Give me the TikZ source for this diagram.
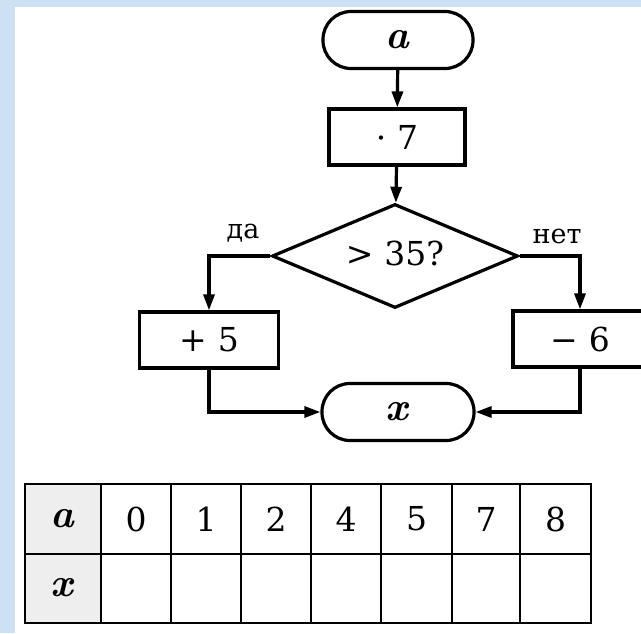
\documentclass[tikz,border=0pt]{standalone}
\usepackage{fontspec}
\newfontfamily\cyrlabelfont{DejaVu Serif}
\newfontfamily\digitfont{DejaVu Serif}
\usetikzlibrary{shapes.geometric,arrows.meta}
\definecolor{frameblue}{RGB}{206,224,244}
\definecolor{cellgray}{RGB}{238,238,238}
\tikzset{
  bigtext/.style={font=\digitfont\fontsize{33}{38}\selectfont},
  termbox/.style={draw, rectangle, rounded corners=28pt, minimum width=150pt, minimum height=57pt, line width=3.2pt, inner sep=0pt, bigtext},
  procbox/.style={draw, rectangle, minimum width=136pt, minimum height=56pt, line width=3.2pt, inner sep=0pt, bigtext},
  decbox/.style={draw, diamond, minimum width=246pt, minimum height=104pt, line width=3.2pt, inner sep=0pt, bigtext},
  connline/.style={line width=3.2pt, -{Triangle[length=16pt,width=11pt]}},
  lbltext/.style={font=\cyrlabelfont\fontsize{27}{30}\selectfont, inner sep=0pt},
  gridline/.style={line width=2.8pt},
  celltext/.style={bigtext, inner sep=0pt}
}
\newcommand{\bivar}[1]{{\rmfamily\fontsize{40}{42}\selectfont\textbf{\textit{#1}}}}
\begin{document}
\begin{tikzpicture}[x=1pt,y=1pt]
\useasboundingbox (0,0) rectangle (641,633);
\fill[frameblue] (0,0) rectangle (641,633);
\fill[white] (15,0) rectangle (641,626);

\node[termbox] (ta) at (398,593) {\bivar{a}};
\node[procbox] (m7) at (397,496) {·\,\,7};
\node[decbox] (dia) at (395,377) {\makebox[0pt]{\raisebox{-10pt}[0pt][0pt]{>\,\,35?}}};
\node[procbox, minimum width=139pt] (p5) at (209,293) {+\,\,5};
\node[procbox, minimum width=134pt] (m6) at (580,294) {−\,\,6};
\node[termbox, minimum width=152pt] (tx) at (398,221) {\bivar{x}};

\node[lbltext] (da) at (243,400) {да};
\node[lbltext] (net) at (557,397) {нет};

\draw[connline] (ta) -- (m7);
\draw[connline] (m7) -- (dia);
\draw[connline] (dia.west) -| (p5.north);
\draw[connline] (dia.east) -| (m6.north);
\draw[connline] (p5.south) |- (tx.west);
\draw[connline] (m6.south) |- (tx.east);

% table
\fill[cellgray] (25,149) rectangle (101,10);
\draw[gridline] (25,149) rectangle (591,10);
\draw[gridline] (25,79) -- (591,79);
\foreach \cx in {101,171,241,311,381,452,520} \draw[gridline] (\cx,149) -- (\cx,10);
\node[celltext] (ha) at (63,114) {\bivar{a}};
\node[celltext] (hx) at (63,45) {\bivar{x}};
\node[celltext] (c0) at (136,114) {0};
\node[celltext] (c1) at (206,114) {1};
\node[celltext] (c2) at (276,114) {2};
\node[celltext] (c4) at (346,114) {4};
\node[celltext] (c5) at (416.5,114) {5};
\node[celltext] (c7) at (486,114) {7};
\node[celltext] (c8) at (555.5,114) {8};
\end{tikzpicture}
\end{document}
